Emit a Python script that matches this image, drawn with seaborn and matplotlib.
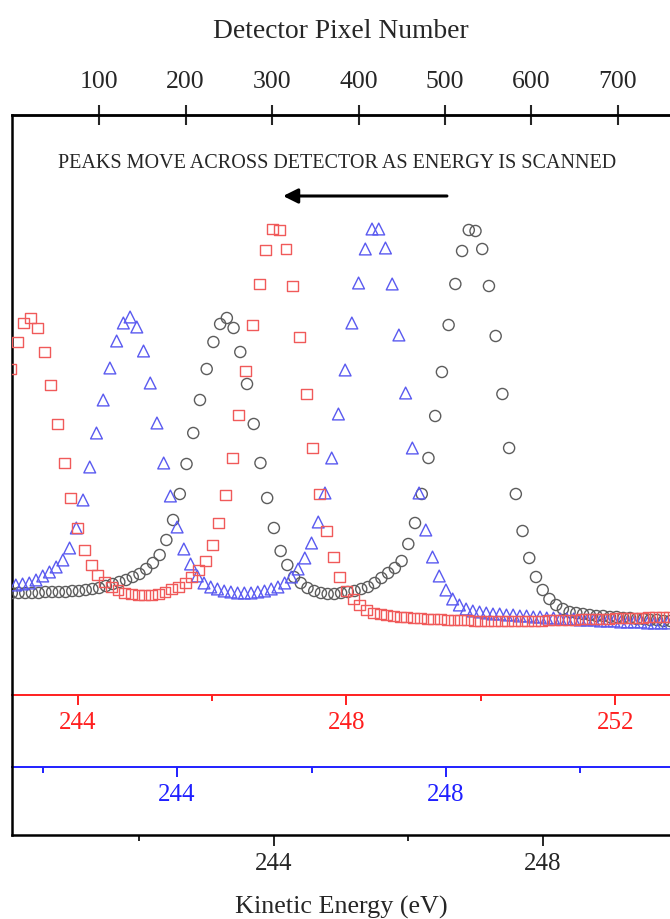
import numpy as np
import pandas as pd
import matplotlib
matplotlib.use("Agg")
import matplotlib.pyplot as plt
import seaborn as sns
from matplotlib.ticker import MultipleLocator, FixedLocator, NullLocator

# Three scans of the same doublet, counts (arb. units) every 0.1 eV of each scan's own energy
black_start = 240.1
black_counts = [2.42, 2.42, 2.42, 2.42, 2.42, 2.43, 2.43, 2.43, 2.43, 2.44,
                2.44, 2.45, 2.46, 2.47, 2.49, 2.51, 2.53, 2.55, 2.58, 2.61,
                2.66, 2.72, 2.80, 2.95, 3.15, 3.41, 3.71, 4.02, 4.35, 4.66,
                4.93, 5.11, 5.17, 5.07, 4.83, 4.51, 4.11, 3.72, 3.37, 3.07,
                2.84, 2.70, 2.58, 2.52, 2.47, 2.44, 2.42, 2.41, 2.41, 2.42,
                2.43, 2.44, 2.46, 2.48, 2.52, 2.57, 2.62, 2.67, 2.74, 2.91,
                3.12, 3.41, 3.77, 4.19, 4.63, 5.10, 5.51, 5.84, 6.05, 6.04,
                5.86, 5.49, 4.99, 4.41, 3.87, 3.41, 3.04, 2.77, 2.58, 2.45,
                2.36, 2.30, 2.26, 2.23, 2.22, 2.21, 2.20, 2.19, 2.19, 2.18,
                2.18, 2.17, 2.17, 2.16, 2.16, 2.15, 2.15, 2.14, 2.14]

blue_start = 241.6
blue_counts = [2.50, 2.51, 2.52, 2.55, 2.59, 2.63, 2.68, 2.75, 2.87, 3.07,
               3.35, 3.68, 4.02, 4.35, 4.67, 4.94, 5.12, 5.18, 5.08, 4.84,
               4.52, 4.12, 3.72, 3.39, 3.08, 2.86, 2.71, 2.59, 2.52, 2.48,
               2.46, 2.44, 2.43, 2.42, 2.42, 2.42, 2.43, 2.44, 2.46, 2.48,
               2.52, 2.58, 2.66, 2.77, 2.92, 3.13, 3.42, 3.77, 4.21, 4.65,
               5.12, 5.52, 5.86, 6.06, 6.06, 5.87, 5.51, 5.00, 4.42, 3.87,
               3.42, 3.05, 2.78, 2.59, 2.45, 2.36, 2.30, 2.26, 2.24, 2.23,
               2.22, 2.21, 2.21, 2.20, 2.20, 2.19, 2.19, 2.18, 2.18, 2.17,
               2.17, 2.16, 2.16, 2.16, 2.15, 2.15, 2.15, 2.14, 2.14, 2.14,
               2.13, 2.13, 2.13, 2.13, 2.12, 2.12, 2.12, 2.12]

red_start = 243.0
red_counts = [4.66, 4.93, 5.12, 5.17, 5.07, 4.83, 4.50, 4.11, 3.72, 3.37,
              3.07, 2.85, 2.70, 2.60, 2.53, 2.48, 2.45, 2.42, 2.41, 2.40,
              2.40, 2.40, 2.41, 2.43, 2.46, 2.48, 2.52, 2.58, 2.65, 2.74,
              2.90, 3.12, 3.40, 3.77, 4.20, 4.64, 5.10, 5.51, 5.85, 6.06,
              6.05, 5.86, 5.49, 4.98, 4.41, 3.87, 3.41, 3.04, 2.78, 2.58,
              2.44, 2.36, 2.30, 2.25, 2.22, 2.21, 2.20, 2.19, 2.18, 2.18,
              2.17, 2.17, 2.16, 2.16, 2.16, 2.15, 2.15, 2.15, 2.15, 2.14,
              2.14, 2.14, 2.14, 2.14, 2.14, 2.14, 2.14, 2.14, 2.14, 2.14,
              2.15, 2.15, 2.15, 2.15, 2.15, 2.16, 2.16, 2.16, 2.16, 2.16,
              2.17, 2.17, 2.17, 2.17, 2.17, 2.18, 2.18, 2.18, 2.18]

# energy offsets of the blue / red scans relative to the black one (eV)
blue_shift = 1.44
red_shift = 2.92
pixel_ticks = [100, 200, 300, 400, 500, 600, 700]
black_ticks, black_minor = [244, 248], [242, 246]
red_ticks, red_minor = [244, 248, 252], [246, 250]
blue_ticks, blue_minor = [244, 248], [242, 246, 250]

RED = "#ff1f1f"
BLUE = "#2020ff"


def scan_frame(start, counts, shift):
    energy = start + 0.1 * np.arange(len(counts))
    return pd.DataFrame({"energy": energy - shift, "counts": counts})


black_df = scan_frame(black_start, black_counts, 0.0)
blue_df = scan_frame(blue_start, blue_counts, blue_shift)
red_df = scan_frame(red_start, red_counts, red_shift)

sns.set_style("white")
plt.rcParams["font.family"] = ["Liberation Serif", "DejaVu Serif"]

fig = plt.figure(figsize=(6.7, 9.19), dpi=100)
ax = fig.add_axes([12 / 670, 84 / 919, 658 / 670, 720 / 919])

series = [(black_df, "o", "#5c5c5c", 64), (blue_df, "^", "#5a5af0", 72), (red_df, "s", "#f05a5a", 62)]
for df, mk, col, size in series:
    sns.scatterplot(data=df, x="energy", y="counts", marker=mk, s=size, color=col,
                    facecolor="none", edgecolor=col, linewidth=1.0, ax=ax, zorder=3)

ax.set_xlim(240.103, 249.894)
ax.set_ylim(0, 7.2)
ax.yaxis.set_major_locator(NullLocator())
ax.set_ylabel("")
ax.spines["right"].set_visible(False)
for side in ["left", "top", "bottom"]:
    ax.spines[side].set_color("black")
    ax.spines[side].set_linewidth(1.8)

ax.xaxis.set_major_locator(FixedLocator(black_ticks))
ax.xaxis.set_minor_locator(FixedLocator(black_minor))
ax.tick_params(axis="x", which="major", direction="out", length=8, width=1.4,
               labelsize=18, pad=5, bottom=True, top=False)
ax.tick_params(axis="x", which="minor", direction="out", length=4.5, width=1.4,
               bottom=True, top=False)
ax.set_xlabel("Kinetic Energy (eV)", fontsize=18.8, labelpad=15)


# top axis: detector pixel number
def ev_to_pix(e):
    return 302.15 + 77.71 * (e - 244)


def pix_to_ev(p):
    return 244 + (p - 302.15) / 77.71


top = ax.secondary_xaxis("top", functions=(ev_to_pix, pix_to_ev))
top.xaxis.set_major_locator(FixedLocator(pixel_ticks))
top.xaxis.set_minor_locator(NullLocator())
top.tick_params(direction="inout", length=15, width=1.5, labelsize=18.5, pad=8)
top.spines["top"].set_linewidth(1.8)
top.set_xlabel("Detector Pixel Number", fontsize=19.8, labelpad=24)

# energy axes of the shifted scans
for loc, shift, col, major, minor in [(0.1944, red_shift, RED, red_ticks, red_minor),
                                      (0.0944, blue_shift, BLUE, blue_ticks, blue_minor)]:
    sec = ax.secondary_xaxis(loc, functions=(lambda e, s=shift: e + s, lambda e, s=shift: e - s))
    sec.spines["bottom"].set_color(col)
    sec.spines["bottom"].set_linewidth(1.4)
    sec.xaxis.set_major_locator(FixedLocator(major))
    sec.xaxis.set_minor_locator(FixedLocator(minor))
    sec.tick_params(which="major", direction="out", length=7, width=1.4, colors=col,
                    labelcolor=col, labelsize=18, pad=5)
    sec.tick_params(which="minor", direction="out", length=4, width=1.4, colors=col)

ax.text(0.494, 0.933, "PEAKS MOVE ACROSS DETECTOR AS ENERGY IS SCANNED",
        transform=ax.transAxes, ha="center", va="center", fontsize=14.5)
ax.annotate("", xy=(0.412, 0.8875), xytext=(0.661, 0.8875), xycoords="axes fraction",
            arrowprops=dict(arrowstyle="-|>", color="black", lw=2.2, mutation_scale=22,
                            shrinkA=0, shrinkB=0))

fig.savefig("out.png", dpi=100)
